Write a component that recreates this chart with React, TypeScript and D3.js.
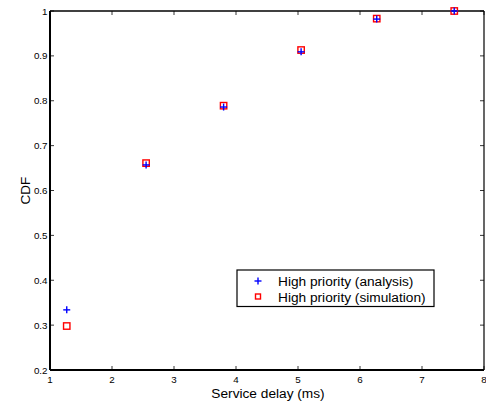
import React from "react";
import * as d3 from "d3";

const delays = [1.27, 2.55, 3.8, 5.05, 6.27, 7.52];
const analysisCdf = [0.334, 0.657, 0.786, 0.909, 0.982, 1.0];
const simulationCdf = [0.298, 0.661, 0.789, 0.913, 0.983, 1.0];
const xTicks = [1, 2, 3, 4, 5, 6, 7, 8];
const yTicks = [0.2, 0.3, 0.4, 0.5, 0.6, 0.7, 0.8, 0.9, 1];
const seriesNames = ["High priority (analysis)", "High priority (simulation)"];

const W = 486;
const H = 403;
const m = { left: 50, right: 2, top: 11, bottom: 33 };

export default function App() {
  const x = d3.scaleLinear().domain([1, 8]).range([m.left, W - m.right]);
  const y = d3.scaleLinear().domain([0.2, 1]).range([H - m.bottom, m.top]);
  const font = "'Liberation Sans', Arial, Helvetica, sans-serif";
  const tick = 4;
  const x0 = x(1), x1 = x(8), y0 = y(0.2), y1 = y(1);
  const fmt = (v: number) => (v === 1 ? "1" : v.toFixed(1));

  return (
    <svg width={W} height={H} style={{ position: "absolute", left: 0, top: 0, background: "#fff" }}>
      {/* tick marks on all four sides, pointing inward */}
      {xTicks.map((t) => (
        <g key={"xt" + t} stroke="#000" strokeWidth={0.8}>
          <line x1={x(t)} x2={x(t)} y1={y0} y2={y0 - tick} />
          <line x1={x(t)} x2={x(t)} y1={y1} y2={y1 + tick} />
        </g>
      ))}
      {yTicks.map((t) => (
        <g key={"yt" + t} stroke="#000" strokeWidth={0.8}>
          <line x1={x0} x2={x0 + tick} y1={y(t)} y2={y(t)} />
          <line x1={x1} x2={x1 - tick} y1={y(t)} y2={y(t)} />
        </g>
      ))}
      {/* axes frame */}
      <line x1={x0} x2={x1} y1={y1} y2={y1} stroke="#000" strokeWidth={1.6} />
      <line x1={x1} x2={x1} y1={y1} y2={y0} stroke="#000" strokeWidth={1.2} />
      <line x1={x0} x2={x1} y1={y0} y2={y0} stroke="#000" strokeWidth={2} />
      <line x1={x0} x2={x0} y1={y1} y2={y0} stroke="#000" strokeWidth={2} />

      {/* tick labels */}
      {xTicks.map((t) => (
        <text key={"xl" + t} x={x(t)} y={y0 + 13} fontSize={9.8} fontFamily={font} textAnchor="middle" fill="#000">
          {t}
        </text>
      ))}
      {yTicks.map((t) => (
        <text key={"yl" + t} x={x0 - 2.5} y={y(t) + 3.5} fontSize={9.8} fontFamily={font} textAnchor="end" fill="#000">
          {fmt(t)}
        </text>
      ))}

      {/* axis titles */}
      <text x={268} y={397.5} fontSize={13.7} fontFamily={font} textAnchor="middle" fill="#000">
        Service delay (ms)
      </text>
      <text
        transform={`translate(30, ${(y0 + y1) / 2}) rotate(-90)`}
        fontSize={13.5}
        fontFamily={font}
        textAnchor="middle"
        fill="#000"
      >
        CDF
      </text>

      {/* simulation markers: open red squares */}
      {delays.map((d, i) => (
        <rect
          key={"s" + i}
          x={x(d) - 3.2}
          y={y(simulationCdf[i]) - 3.2}
          width={6.4}
          height={6.4}
          fill="none"
          stroke="#ff0000"
          strokeWidth={1.4}
        />
      ))}
      {/* analysis markers: blue plus signs */}
      {delays.map((d, i) => (
        <g key={"a" + i} stroke="#0000ff" strokeWidth={1.4}>
          <line x1={x(d) - 3.5} x2={x(d) + 3.5} y1={y(analysisCdf[i])} y2={y(analysisCdf[i])} />
          <line x1={x(d)} x2={x(d)} y1={y(analysisCdf[i]) - 3.5} y2={y(analysisCdf[i]) + 3.5} />
        </g>
      ))}

      {/* legend */}
      <g>
        <rect x={237} y={270} width={197} height={36.5} fill="#fff" stroke="#000" strokeWidth={1.2} />
        <g stroke="#0000ff" strokeWidth={1.4}>
          <line x1={254.5} x2={261.5} y1={281} y2={281} />
          <line x1={258} x2={258} y1={277.5} y2={284.5} />
        </g>
        <rect x={255.5} y={294} width={5} height={5} fill="none" stroke="#ff0000" strokeWidth={1.4} />
        <text x={278} y={286} fontSize={13.7} fontFamily={font} fill="#000">
          {seriesNames[0]}
        </text>
        <text x={278} y={302} fontSize={13.7} fontFamily={font} fill="#000">
          {seriesNames[1]}
        </text>
      </g>
    </svg>
  );
}
